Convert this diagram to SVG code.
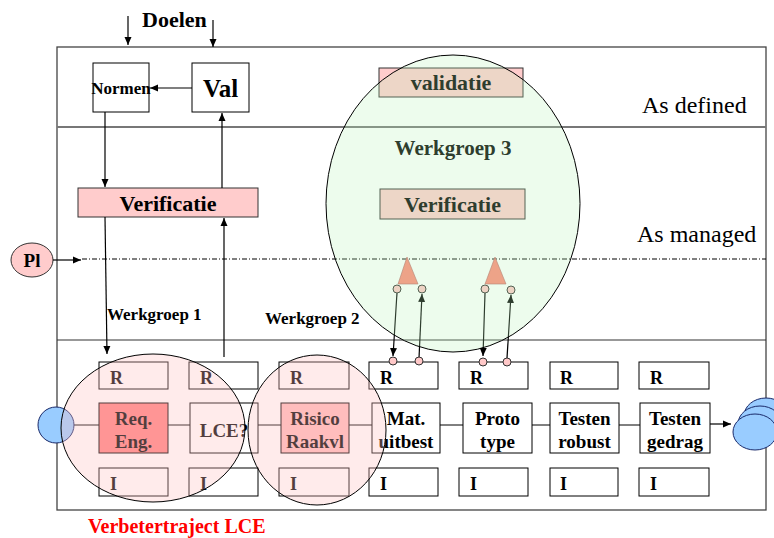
<svg xmlns="http://www.w3.org/2000/svg" width="774" height="538" viewBox="0 0 774 538">
  <defs>
    <marker id="arr" markerWidth="8" markerHeight="8" refX="8" refY="4" orient="auto" markerUnits="userSpaceOnUse">
      <path d="M0,0.5 L8,4 L0,7.5 z" fill="#000"/>
    </marker>
  </defs>
  <style>
    .t{font-family:"Liberation Serif","Times New Roman",serif;font-weight:bold;fill:#000}
    .r{font-family:"Liberation Serif","Times New Roman",serif;fill:#000}
    .c{text-anchor:middle}
    .box{fill:#fff;stroke:#000;stroke-width:1}
    .pink{fill:#ffcccc;stroke:#333;stroke-width:1}
    .ln{stroke:#000;stroke-width:1;fill:none}
    .ar{stroke:#000;stroke-width:1.2;fill:none;marker-end:url(#arr)}
    .dot{fill:#ffc8c8;stroke:#333;stroke-width:1}
    .tri{fill:#ff8878;stroke:#b06060;stroke-width:0.6}
    .blob{fill:#99ccff;stroke:#1a2a6a;stroke-width:1}
  </style>

  <rect x="0" y="0" width="774" height="538" fill="#fff"/>

  <!-- frame and level bands -->
  <g id="frame">
    <rect x="57" y="47" width="709" height="463" fill="none" stroke="#444" stroke-width="1.3"/>
    <line x1="57" y1="127" x2="766" y2="127" stroke="#777" stroke-width="2"/>
    <line x1="57" y1="340" x2="766" y2="340" stroke="#333" stroke-width="1.2"/>
    <line x1="82" y1="259" x2="766" y2="259" stroke="#000" stroke-width="1" stroke-dasharray="5,2,1,2"/>
  </g>

  <g id="labels">
    <text class="t" x="142" y="27" font-size="22">Doelen</text>
    <text class="r" x="642" y="113" font-size="24">As defined</text>
    <text class="r" x="637" y="242" font-size="24">As managed</text>
    <text class="t" x="107" y="320" font-size="17">Werkgroep 1</text>
    <text class="t" x="265" y="324" font-size="17">Werkgroep 2</text>
    <text class="t" x="88" y="533" font-size="20" style="fill:#ff0000">Verbetertraject LCE</text>
  </g>

  <g id="normen">
    <rect class="box" x="93" y="63" width="56" height="49"/>
    <text class="t c" x="121" y="94" font-size="17">Normen</text>
  </g>
  <g id="val">
    <rect class="box" x="192" y="63" width="57" height="49"/>
    <text class="t c" x="220.5" y="97" font-size="25">Val</text>
  </g>
  <g id="verificatie-1">
    <rect class="pink" x="78" y="188" width="180" height="29"/>
    <text class="t c" x="168" y="211" font-size="22">Verificatie</text>
  </g>
  <g id="pl">
    <ellipse cx="32" cy="260" rx="21" ry="17" class="pink"/>
    <text class="t c" x="32" y="267" font-size="19">Pl</text>
  </g>
  <g id="validatie">
    <rect class="pink" x="379" y="68" width="144" height="29"/>
    <text class="t c" x="451" y="90" font-size="22">validatie</text>
  </g>
  <g id="verificatie-2">
    <rect class="pink" x="380" y="189" width="145" height="30"/>
    <text class="t c" x="452.5" y="212" font-size="22">Verificatie</text>
  </g>

  <!-- R row -->
  <g id="r-row">
    <rect class="box" x="99" y="362" width="69" height="27"/><text class="t" x="110" y="384" font-size="18">R</text>
    <rect class="box" x="189" y="362" width="69" height="27"/><text class="t" x="200" y="384" font-size="18">R</text>
    <rect class="box" x="279" y="362" width="70" height="27"/><text class="t" x="290" y="384" font-size="18">R</text>
    <rect class="box" x="369" y="362" width="69" height="27"/><text class="t" x="380" y="384" font-size="18">R</text>
    <rect class="box" x="459" y="362" width="69" height="27"/><text class="t" x="470" y="384" font-size="18">R</text>
    <rect class="box" x="550" y="362" width="68" height="27"/><text class="t" x="560" y="384" font-size="18">R</text>
    <rect class="box" x="639" y="362" width="70" height="27"/><text class="t" x="650" y="384" font-size="18">R</text>
  </g>

  <!-- I row -->
  <g id="i-row">
    <rect class="box" x="99" y="468" width="69" height="28"/><text class="t" x="110" y="490" font-size="18">I</text>
    <rect class="box" x="189" y="468" width="69" height="28"/><text class="t" x="200" y="490" font-size="18">I</text>
    <rect class="box" x="279" y="468" width="70" height="28"/><text class="t" x="290" y="490" font-size="18">I</text>
    <rect class="box" x="369" y="468" width="69" height="28"/><text class="t" x="380" y="490" font-size="18">I</text>
    <rect class="box" x="459" y="468" width="69" height="28"/><text class="t" x="470" y="490" font-size="18">I</text>
    <rect class="box" x="550" y="468" width="68" height="28"/><text class="t" x="560" y="490" font-size="18">I</text>
    <rect class="box" x="639" y="468" width="70" height="28"/><text class="t" x="650" y="490" font-size="18">I</text>
  </g>

  <!-- process chain and flows -->
  <g id="connectors">
    <line class="ln" x1="74" y1="425" x2="99" y2="425"/>
    <line class="ln" x1="168" y1="425" x2="190" y2="425"/>
    <line class="ln" x1="258" y1="425" x2="281" y2="425"/>
    <line class="ln" x1="349" y1="425" x2="372" y2="425"/>
    <line class="ln" x1="440" y1="425" x2="463" y2="425"/>
    <line class="ln" x1="532" y1="425" x2="550" y2="425"/>
    <line class="ln" x1="619" y1="425" x2="640" y2="425"/>
    <line class="ar" x1="710" y1="424" x2="731" y2="424"/>

    <line class="ar" x1="128" y1="16" x2="128" y2="45"/>
    <line class="ar" x1="213" y1="20" x2="213" y2="47"/>
    <line class="ar" x1="192" y1="88" x2="150" y2="88"/>
    <line class="ar" x1="105" y1="112" x2="105" y2="187"/>
    <line class="ar" x1="222" y1="188" x2="222" y2="113"/>
    <line class="ar" x1="53" y1="260" x2="81" y2="260"/>
    <line class="ar" x1="105" y1="217" x2="107" y2="354"/>
    <line class="ar" x1="224" y1="357" x2="224" y2="218"/>

    <line class="ar" x1="397" y1="293" x2="393" y2="356"/>
    <line class="ar" x1="419" y1="358" x2="422" y2="294"/>
    <line class="ar" x1="485" y1="293" x2="483" y2="356"/>
    <line class="ar" x1="507" y1="358" x2="511" y2="295"/>
  </g>

  <!-- process steps -->
  <g id="req-eng">
    <rect x="99" y="403" width="69" height="50" fill="#ff8080" stroke="#000"/>
    <text class="t c" x="133.5" y="425" font-size="19">Req.</text>
    <text class="t c" x="133.5" y="448" font-size="19">Eng.</text>
  </g>
  <g id="lce">
    <rect class="box" x="190" y="403" width="68" height="50"/>
    <text class="t c" x="224" y="437" font-size="19">LCE?</text>
  </g>
  <g id="risico">
    <rect x="281" y="403" width="68" height="50" fill="#ffbcbc" stroke="#000"/>
    <text class="t c" x="315" y="425" font-size="19">Risico</text>
    <text class="t c" x="315" y="448" font-size="19">Raakvl</text>
  </g>
  <g id="mat">
    <rect class="box" x="372" y="403" width="68" height="50"/>
    <text class="t c" x="406" y="425" font-size="19">Mat.</text>
    <text class="t c" x="406" y="448" font-size="19">uitbest</text>
  </g>
  <g id="prototype">
    <rect class="box" x="463" y="403" width="69" height="50"/>
    <text class="t c" x="497.5" y="425" font-size="19">Proto</text>
    <text class="t c" x="497.5" y="448" font-size="19">type</text>
  </g>
  <g id="testen-robust">
    <rect class="box" x="550" y="403" width="69" height="50"/>
    <text class="t c" x="584.5" y="425" font-size="19">Testen</text>
    <text class="t c" x="584.5" y="448" font-size="19">robust</text>
  </g>
  <g id="testen-gedrag">
    <rect class="box" x="640" y="403" width="70" height="50"/>
    <text class="t c" x="675" y="425" font-size="19">Testen</text>
    <text class="t c" x="675" y="448" font-size="19">gedrag</text>
  </g>

  <!-- start and end -->
  <g id="start">
    <circle cx="56" cy="425" r="18" class="blob"/>
  </g>
  <g id="end">
    <ellipse cx="766" cy="416" rx="22" ry="18" class="blob"/>
    <ellipse cx="760" cy="424" rx="22" ry="18" class="blob"/>
    <ellipse cx="755" cy="432" rx="22" ry="18" class="blob"/>
  </g>

  <!-- feedback triangles -->
  <g id="tri-1">
    <polygon class="tri" points="407,257 398,284 418,284"/>
    <circle class="dot" cx="397" cy="289" r="4"/>
    <circle class="dot" cx="422" cy="289" r="4"/>
    <circle class="dot" cx="393" cy="361" r="4"/>
    <circle class="dot" cx="419" cy="361" r="4"/>
  </g>
  <g id="tri-2">
    <polygon class="tri" points="495,257 485,284 506,284"/>
    <circle class="dot" cx="485" cy="289" r="4"/>
    <circle class="dot" cx="511" cy="290" r="4"/>
    <circle class="dot" cx="483" cy="362" r="4"/>
    <circle class="dot" cx="507" cy="362" r="4"/>
  </g>

  <!-- working groups -->
  <g id="werkgroep-3">
    <ellipse cx="453" cy="203.5" rx="127" ry="148.5" fill="#b8f5b8" fill-opacity="0.25" stroke="#000" stroke-width="1"/>
    <text class="t c" x="453" y="155" font-size="21" style="fill:#2e3e2e">Werkgroep 3</text>
  </g>
  <g id="traject-1">
    <ellipse cx="153" cy="428" rx="92" ry="74" fill="#ffc0c0" fill-opacity="0.32" stroke="#000" stroke-width="1"/>
  </g>
  <g id="traject-2">
    <ellipse cx="317" cy="430" rx="69" ry="75" fill="#ffc0c0" fill-opacity="0.32" stroke="#000" stroke-width="1"/>
  </g>
</svg>
